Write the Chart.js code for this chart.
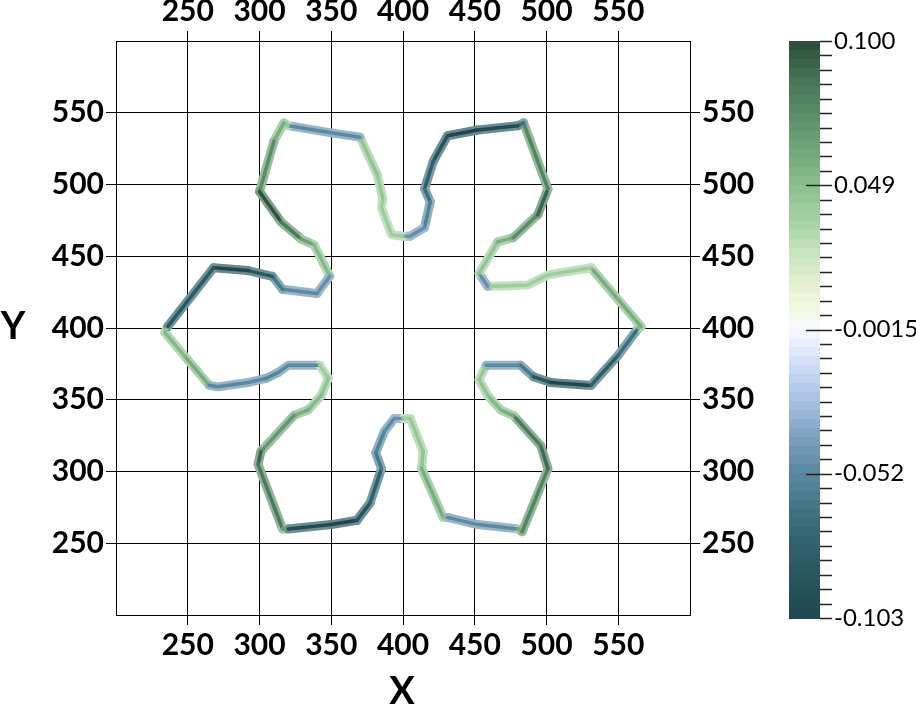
<!DOCTYPE html>
<html>
<head>
<meta charset="utf-8">
<script src="https://cdn.jsdelivr.net/npm/chart.js@4/dist/chart.umd.min.js"></script>
<style>
  body { margin: 0; background: #fff; }
  canvas { display: block; }
</style>
</head>
<body>
<canvas id="chart" width="916" height="708"></canvas>
<script>
// ticks
const xTicks = [250, 300, 350, 400, 450, 500, 550];
const yTicks = [250, 300, 350, 400, 450, 500, 550];

// closed curve, traced from the leftmost vertex going down
const curveX = [236, 234, 249, 265, 271, 292, 305, 313, 320, 342, 348, 343, 334, 324, 301, 299, 316, 320, 350, 368,
  377, 385, 381, 387, 394, 400, 405, 414, 413, 428, 431, 452, 480, 483, 501, 496, 477, 468, 459, 453,
  458, 482, 491, 503, 531, 550, 564, 566, 531, 501, 487, 459, 453, 466, 477, 494, 501, 484, 480, 452,
  431, 421, 415, 419, 415, 405, 400, 392, 385, 386, 382, 370, 350, 320, 317, 310, 300, 315, 329, 338,
  349, 340, 316, 309, 292, 268];
const curveY = [401, 397, 379, 360, 359, 362, 365, 369, 374, 374, 365, 353, 343, 339, 314, 305, 260, 260, 263, 266,
  278, 302, 313, 328, 337, 337, 337, 314, 302, 268, 268, 263, 260, 258, 302, 318, 339, 343, 353, 364,
  374, 374, 366, 362, 360, 381, 400, 401, 442, 437, 430, 429, 438, 460, 463, 479, 497, 543, 541, 538,
  534, 516, 497, 488, 470, 464, 464, 465, 484, 490, 507, 533, 536, 541, 543, 530, 495, 474, 462, 458,
  436, 424, 427, 436, 440, 442];
// scalar value of the segment that starts at each vertex
const curveV = [0.04, 0.045, 0.05, -0.045, -0.045, -0.045, -0.048, -0.045, -0.045, 0.035, 0.04, 0.045, 0.05, 0.06, 0.08, 0.072, 0.055, -0.085, -0.09, -0.08,
  -0.07, -0.055, -0.05, -0.045, -0.042, 0.035, 0.038, 0.04, 0.05, 0.045, -0.045, -0.045, 0.05, 0.068, 0.078, 0.072, 0.05, 0.045, 0.04, 0.038,
  -0.045, -0.055, -0.075, -0.09, -0.07, -0.06, 0.045, 0.05, 0.035, 0.035, 0.035, -0.042, 0.04, 0.05, 0.065, 0.08, 0.068, -0.06, -0.085, -0.09,
  -0.08, -0.07, -0.06, -0.05, -0.042, -0.04, 0.035, 0.035, 0.035, 0.038, 0.04, -0.045, -0.045, 0.04, 0.05, 0.065, 0.085, 0.072, 0.055, 0.045,
  -0.042, -0.045, -0.055, -0.075, -0.09, -0.075];

// colour bar
const cbMin = -0.103;
const cbMax = 0.100;
const cbLabels = ['0.100', '0.049', '-0.0015', '-0.052', '-0.103'];

const cmap = [
  [-0.103, '#1f474f'], [-0.09, '#28555d'], [-0.075, '#33646f'], [-0.06, '#4b7d8f'], [-0.05, '#5f8ba6'],
  [-0.04, '#7d9fbf'], [-0.03, '#9db8da'], [-0.02, '#bcd0ef'], [-0.01, '#dde6fa'], [-0.0015, '#f8faff'],
  [0.005, '#f4f9e4'], [0.015, '#e2efcf'], [0.025, '#c8e4c0'], [0.035, '#a9d4a8'], [0.049, '#8cbf8e'],
  [0.06, '#74a87c'], [0.075, '#5a8c67'], [0.088, '#437055'], [0.1, '#2c4b39']
];

function hex2rgb(h) {
  return [parseInt(h.slice(1, 3), 16), parseInt(h.slice(3, 5), 16), parseInt(h.slice(5, 7), 16)];
}
// colour for a value; mix > 0 blends it towards white
function colorAt(v, mix) {
  mix = mix || 0;
  let c = hex2rgb(cmap[cmap.length - 1][1]);
  if (v <= cmap[0][0]) c = hex2rgb(cmap[0][1]);
  for (let i = 0; i < cmap.length - 1; i++) {
    if (v >= cmap[i][0] && v <= cmap[i + 1][0]) {
      const t = (v - cmap[i][0]) / (cmap[i + 1][0] - cmap[i][0]);
      const c0 = hex2rgb(cmap[i][1]), c1 = hex2rgb(cmap[i + 1][1]);
      c = c0.map((x, k) => x + (c1[k] - x) * t);
      break;
    }
  }
  c = c.map(x => Math.round(x + (255 - x) * mix));
  return 'rgb(' + c[0] + ',' + c[1] + ',' + c[2] + ')';
}

const pts = curveX.map((x, i) => ({ x: x, y: curveY[i] }));
pts.push({ x: curveX[0], y: curveY[0] });

const tickFont = { family: 'Lato', size: 30, weight: 'bold' };

function axis(pos, ticks, onArea, fit) {
  return {
    type: 'linear',
    position: pos,
    min: 200,
    max: 600,
    z: 1,
    afterBuildTicks: s => { s.ticks = ticks.map(v => ({ value: v })); },
    afterFit: fit,
    grid: { color: '#000', lineWidth: 1, tickLength: 10, drawOnChartArea: onArea, drawTicks: true },
    border: { display: true, color: '#000', width: 1 },
    ticks: { font: tickFont, color: '#000', padding: 2, maxRotation: 0, autoSkip: false }
  };
}

// titles and colour bar
const extras = {
  id: 'extras',
  afterDraw(chart) {
    const ctx = chart.ctx;
    ctx.save();
    ctx.fillStyle = '#000';
    ctx.font = 'bold 38px Lato';
    ctx.textAlign = 'center';
    ctx.textBaseline = 'middle';
    ctx.fillText('X', 402, 692);
    ctx.fillText('Y', 13, 327);

    const bx = 789, bw = 31, top = 41, bot = 618;
    const n = 64;
    for (let i = 0; i < n; i++) {
      const v = cbMax - (i + 0.5) * (cbMax - cbMin) / n;
      const y0 = top + i * (bot - top) / n;
      ctx.fillStyle = colorAt(v);
      ctx.fillRect(bx, Math.floor(y0), bw, Math.ceil((bot - top) / n) + 1);
    }
    ctx.strokeStyle = '#222';
    ctx.lineWidth = 1.5;
    for (let i = 0; i <= 40; i++) {
      const y = Math.round(top + i * (bot - top) / 40) + 0.5;
      const major = i % 10 === 0;
      const x0 = (major && i > 0 && i < 40) ? 806 : 820;
      ctx.beginPath();
      ctx.moveTo(x0, y);
      ctx.lineTo(832, y);
      ctx.stroke();
    }
    ctx.fillStyle = '#000';
    ctx.font = '24px Lato';
    ctx.textAlign = 'left';
    cbLabels.forEach((t, i) => {
      const y = top + i * (bot - top) / 4;
      ctx.fillText(t, 834, y);
    });
    ctx.restore();
  }
};

new Chart(document.getElementById('chart'), {
  type: 'scatter',
  data: {
    datasets: [
      {
        // dark core, drawn on top
        data: pts,
        order: 1,
        showLine: true,
        pointRadius: 0,
        borderWidth: 3.5,
        borderJoinStyle: 'round',
        borderCapStyle: 'round',
        segment: { borderColor: c => colorAt(curveV[c.p0DataIndex % curveV.length] * 1.15) }
      },
      {
        // soft halo underneath
        data: pts,
        order: 2,
        showLine: true,
        pointRadius: 0,
        borderWidth: 9,
        borderJoinStyle: 'round',
        borderCapStyle: 'round',
        segment: { borderColor: c => colorAt(curveV[c.p0DataIndex % curveV.length], 0.3) }
      }
    ]
  },
  options: {
    responsive: false,
    animation: false,
    layout: { padding: 0 },
    plugins: { legend: { display: false }, tooltip: { enabled: false } },
    scales: {
      x: axis('bottom', xTicks, true, s => { s.height = 93; }),
      x2: axis('top', xTicks, false, s => { s.height = 41; }),
      y: axis('left', yTicks, true, s => { s.width = 116; }),
      y2: axis('right', yTicks, false, s => { s.width = 226; })
    }
  },
  plugins: [extras]
});
</script>
</body>
</html>
